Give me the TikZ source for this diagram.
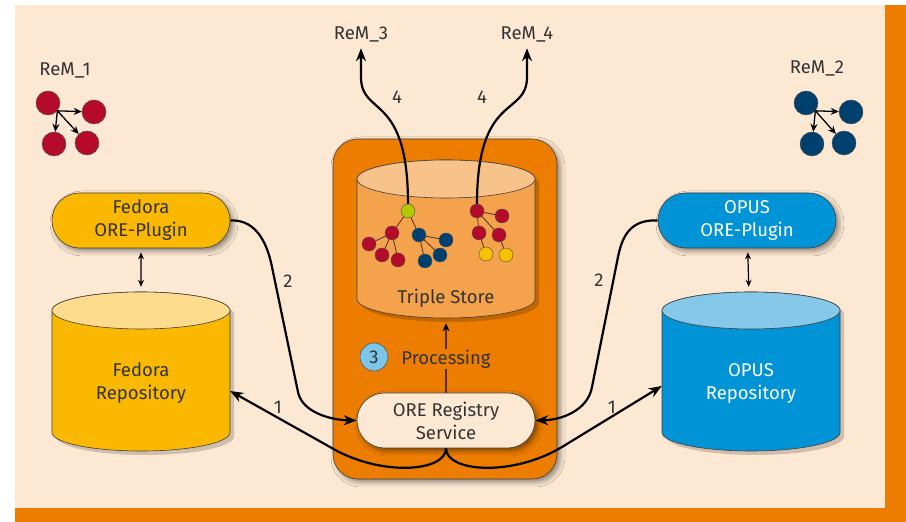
\documentclass[tikz,border=0pt]{standalone}
\usepackage{fontspec}
\setmainfont{Fira Sans}
\usetikzlibrary{arrows.meta,shapes.misc,shadows.blur}

\definecolor{peach}{RGB}{253,232,211}
\definecolor{ieorange}{RGB}{237,125,0}
\definecolor{fedyellow}{RGB}{250,185,0}
\definecolor{fedtop}{RGB}{253,219,140}
\definecolor{opusblue}{RGB}{0,148,214}
\definecolor{opustop}{RGB}{133,200,234}
\definecolor{storebody}{RGB}{244,162,76}
\definecolor{storetop}{RGB}{248,195,139}
\definecolor{remred}{RGB}{181,10,42}
\definecolor{remblue}{RGB}{0,64,111}
\definecolor{remgreen}{RGB}{179,200,0}
\definecolor{remyellow}{RGB}{249,192,0}
\definecolor{stepblue}{RGB}{124,198,234}
\definecolor{inktext}{RGB}{51,51,51}

% drum: centre x, top ellipse y, bottom ellipse y, x radius, y radius, body colour, top colour
\newcommand{\drumshape}[7]{%
  \fill[black, opacity=0.18] ({#1-#4+4},{#2-4}) -- ({#1-#4+4},{#3-4}) arc[start angle=180, end angle=360, x radius=#4, y radius=#5] -- ({#1+#4+4},{#2-4}) arc[start angle=0, end angle=180, x radius=#4, y radius=#5] -- cycle;
  \filldraw[fill=#6, draw=black!75, line width=0.6pt] ({#1-#4},#2) -- ({#1-#4},#3) arc[start angle=180, end angle=360, x radius=#4, y radius=#5] -- ({#1+#4},#2) arc[start angle=0, end angle=180, x radius=#4, y radius=#5] -- cycle;
  \filldraw[fill=#7, draw=black!75, line width=0.6pt] (#1,#2) ellipse [x radius=#4, y radius=#5];
}

\begin{document}
\begin{tikzpicture}[x=1pt, y=1pt,
  font=\fontsize{18.5}{23}\selectfont, text=inktext,
  softshadow/.style={blur shadow={shadow xshift=3pt, shadow yshift=-3pt, shadow blur radius=5pt, shadow opacity=45}},
  pill/.style={rounded rectangle, draw=black!75, line width=0.6pt, minimum width=178pt, minimum height=55pt, inner sep=0pt, align=center, softshadow},
  drumbox/.style={rectangle, minimum width=178pt, inner sep=0pt},
  corebox/.style={rectangle, rounded corners=25pt, draw=black!75, line width=0.6pt, fill=ieorange, minimum width=224pt, minimum height=340pt, softshadow},
  remdot/.style={circle, draw=black!70, line width=0.4pt, minimum size=24pt, inner sep=0pt},
  treedot/.style={circle, draw=black!70, line width=0.4pt, minimum size=14pt, inner sep=0pt},
  twig/.style={line width=0.8pt, draw=black!60!brown},
  bigarrow/.style={line width=2.2pt, -{Stealth[length=13pt,width=10pt]}},
  duplex/.style={line width=1.2pt, {Stealth[length=7pt,width=6pt]}-{Stealth[length=7pt,width=6pt]}},
  thinarrow/.style={line width=1.3pt, -{Stealth[length=8pt,width=7pt]}}]

% BACKGROUND
\useasboundingbox (0,0) rectangle (906,522);
\fill[peach] (15,14) rectangle (885,517);
\fill[ieorange] (885,0) rectangle (906,517);
\fill[ieorange] (15,0) rectangle (906,14);

% REM LABELS
\node (rem1) at (65,452) {ReM\_1};
\node (rem2) at (817,454) {ReM\_2};
\node (rem3) at (361,488) {ReM\_3};
\node (rem4) at (527,488) {ReM\_4};

% REM_1 AND REM_2 GRAPHS
\node[remdot, fill=remred] (ra) at (48,419) {};
\node[remdot, fill=remred] (rb) at (94,410) {};
\node[remdot, fill=remred] (rc) at (54,378) {};
\node[remdot, fill=remred] (rd) at (87,379) {};
\draw[thinarrow] (ra.-40) -- (rb);
\draw[thinarrow] (ra.-40) -- (rc);
\draw[thinarrow] (ra.-40) -- (rd);

\node[remdot, fill=remblue] (ba) at (806,419) {};
\node[remdot, fill=remblue] (bb) at (851,410) {};
\node[remdot, fill=remblue] (bc) at (812,378) {};
\node[remdot, fill=remblue] (bd) at (844,379) {};
\draw[thinarrow] (ba.-40) -- (bb);
\draw[thinarrow] (ba.-40) -- (bc);
\draw[thinarrow] (ba.-40) -- (bd);

% CENTRAL BOX
\node[corebox] (core) at (445,213) {};

% TRIPLE STORE
\drumshape{446}{343}{223}{89}{19}{storebody}{storetop}
\node[drumbox, minimum height=158pt] (store) at (446,283) {};
\node (storetext) at (446,224) {Triple Store};

% TREES IN THE STORE
\node[treedot, fill=remgreen] (g) at (408,311) {};
\node[treedot, fill=remred] (r1) at (392,289) {};
\node[treedot, fill=remred] (r2) at (369,278) {};
\node[treedot, fill=remred] (r3) at (382,267) {};
\node[treedot, fill=remred] (r4) at (398,262) {};
\node[treedot, fill=remblue] (b1) at (419,287) {};
\node[treedot, fill=remblue] (b2) at (446,282) {};
\node[treedot, fill=remblue] (b3) at (440,267) {};
\node[treedot, fill=remblue] (b4) at (425,261) {};
\draw[twig] (g) -- (r1) (g) -- (b1);
\draw[twig] (r1) -- (r2) (r1) -- (r3) (r1) -- (r4);
\draw[twig] (b1) -- (b2) (b1) -- (b3) (b1) -- (b4);

\node[treedot, fill=remred] (t0) at (477,311) {};
\node[treedot, fill=remred] (t1) at (502,306) {};
\node[treedot, fill=remred] (t2) at (479,289) {};
\node[treedot, fill=remred] (t3) at (499,287) {};
\node[treedot, fill=remyellow] (y1) at (486,268) {};
\node[treedot, fill=remyellow] (y2) at (506,267) {};
\draw[twig] (t0) -- (t1) (t0) -- (t2) (t0) -- (t3);
\draw[twig] (t2) -- (y1) (t3) -- (y2);

% REGISTRY AND PROCESSING
\node[pill, fill=peach] (reg) at (446,101.5) {ORE Registry\\Service};
\draw[thinarrow, shorten >=5pt] (reg) -- (store);
\node[fill=ieorange, inner sep=1pt] (proc) at (446,163) {Processing};
\node[circle, fill=stepblue, draw=black!70, line width=0.5pt, minimum size=28pt, inner sep=0pt] (three) at (374,165) {3};

% PLUGINS AND REPOSITORIES
\node[pill, fill=fedyellow] (fedplug) at (141,301.5) {Fedora\\ORE-Plugin};
\node[pill, fill=opusblue, text=white] (opusplug) at (747,301.5) {OPUS\\ORE-Plugin};
\drumshape{141}{211.5}{89.5}{89}{18.5}{fedyellow}{fedtop}
\drumshape{751}{211.5}{89.5}{89}{18.5}{opusblue}{opustop}
\node[drumbox, minimum height=159pt] (fedrepo) at (141,150.5) {};
\node[drumbox, minimum height=159pt] (opusrepo) at (751,150.5) {};
\node[align=center] (fedtext) at (141,139) {Fedora\\Repository};
\node[align=center, text=white] (opustext) at (751,139) {OPUS\\Repository};
\draw[duplex, shorten <=4pt, shorten >=5pt] (fedplug) -- (fedrepo);
\draw[duplex, shorten <=4pt, shorten >=5pt] (opusplug) -- (opusrepo);

% ARROWS 1
\draw[bigarrow] (reg.south) .. controls (446,50) and (380,45) .. (330,75) -- ([yshift=-19.5pt]fedrepo.east);
\draw[bigarrow] (reg.south) .. controls (446,50) and (512,45) .. (562,75) -- ([yshift=-14.5pt]opusrepo.west);
\node (one1) at (278,115) {1};
\node (one2) at (612,115) {1};

% ARROWS 2
\draw[bigarrow] (fedplug.east) .. controls (258,303) and (268,275) .. (272,255) -- (298,130) .. controls (302,110) and (330,102) .. (reg.west);
\draw[bigarrow] (opusplug.west) .. controls (630,303) and (622,285) .. (618,265) -- (592,135) .. controls (588,112) and (562,102) .. (reg.east);
\node (two1) at (288,241) {2};
\node (two2) at (599,242) {2};

% ARROWS 4
\draw[bigarrow] (g.north) .. controls (408,430) and (361,405) .. (361,445) -- ([yshift=-3pt]rem3.south);
\draw[bigarrow] (t0.north) .. controls (477,430) and (527,405) .. (527,445) -- ([yshift=-3pt]rem4.south);
\node (four1) at (397,425) {4};
\node (four2) at (482,425) {4};

\end{tikzpicture}
\end{document}
